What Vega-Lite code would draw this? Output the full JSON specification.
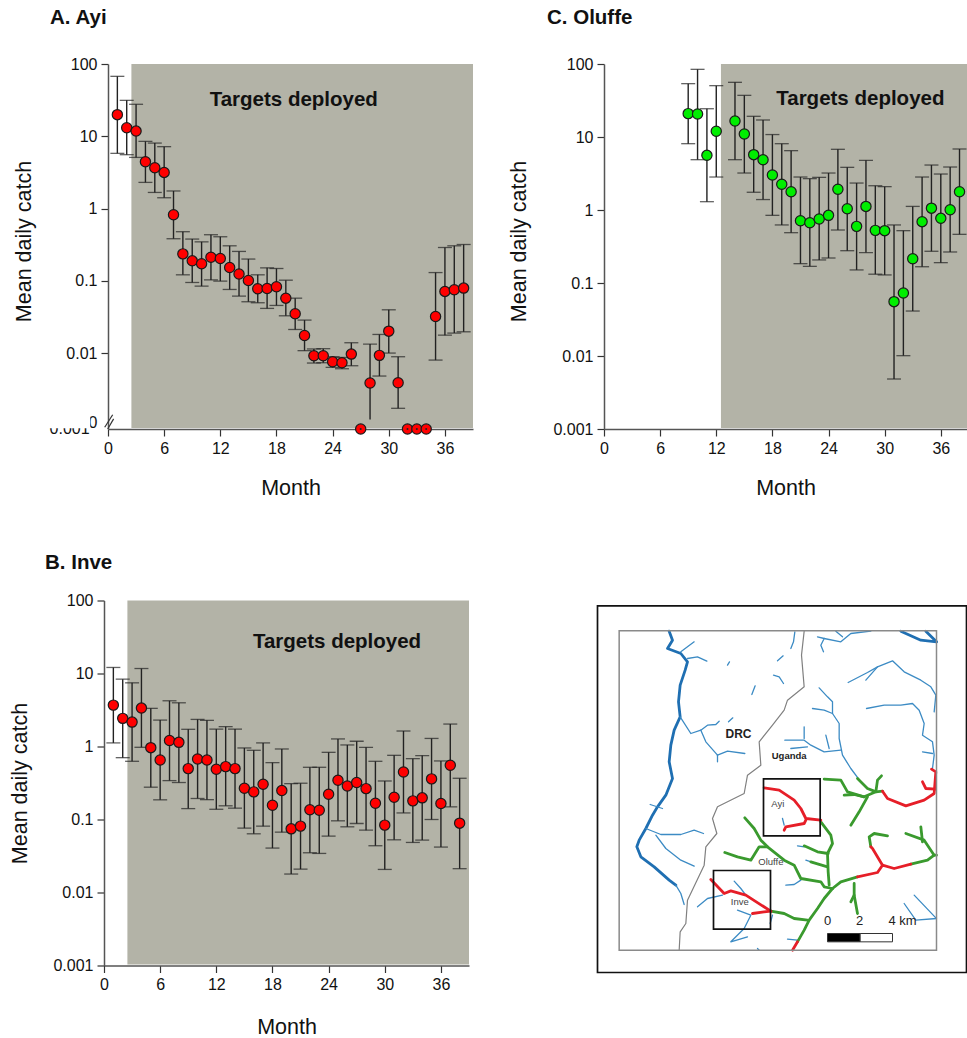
{"$schema":"https://vega.github.io/schema/vega-lite/v6.json","padding":{"left":9,"top":7,"right":0,"bottom":0},"background":"white",
"config":{"font":"Liberation Sans","view":{"stroke":null},"title":{"fontSize":20.5,"fontWeight":"bold","color":"#111"},
"axis":{"grid":false,"domainColor":"#555","domainWidth":1.5,"tickColor":"#333","tickWidth":1.2,"tickSize":7,"labelFontSize":16,"labelColor":"#111","labelPadding":4,"titleFontSize":21.5,"titleFontWeight":"normal","titleColor":"#111","labelOverlap":false,"labelFlush":false}},
"datasets":{
"shadeA":[{"month":2.5,"end":39,"low":0.00092,"high":100}],
"shadeC":[{"month":12.5,"end":38.8,"low":0.00103,"high":100}],
"shadeB":[{"month":2.5,"end":39,"low":0.00103,"high":100}],
"A":[{"month":1,"mean":19.9,"hi":67.5,"lo":5.8},{"month":2,"mean":13.1,"hi":31.4,"lo":5.56},{"month":3,"mean":11.8,"hi":27.7,"lo":5.1},{"month":4,"mean":4.45,"hi":8.5,"lo":2.3},{"month":5,"mean":3.67,"hi":8.05,"lo":1.67},{"month":6,"mean":3.16,"hi":7.18,"lo":1.41},{"month":7,"mean":0.82,"hi":1.75,"lo":0.382},{"month":8,"mean":0.236,"hi":0.478,"lo":0.121},{"month":9,"mean":0.189,"hi":0.378,"lo":0.0948},{"month":10,"mean":0.172,"hi":0.346,"lo":0.0844},{"month":11,"mean":0.212,"hi":0.434,"lo":0.103},{"month":12,"mean":0.204,"hi":0.407,"lo":0.099},{"month":13,"mean":0.153,"hi":0.305,"lo":0.0759},{"month":14,"mean":0.124,"hi":0.255,"lo":0.0614},{"month":15,"mean":0.101,"hi":0.2,"lo":0.0513},{"month":16,"mean":0.0775,"hi":0.121,"lo":0.0497},{"month":17,"mean":0.0783,"hi":0.151,"lo":0.0415},{"month":18,"mean":0.0826,"hi":0.148,"lo":0.0456},{"month":19,"mean":0.0575,"hi":0.102,"lo":0.0328},{"month":20,"mean":0.035,"hi":0.0575,"lo":0.0212},{"month":21,"mean":0.0175,"hi":0.0286,"lo":0.0108},{"month":22,"mean":0.00918,"hi":0.0114,"lo":0.00728},{"month":23,"mean":0.00918,"hi":0.0115,"lo":0.00735},{"month":24,"mean":0.00759,"hi":0.0089,"lo":0.00634},{"month":25,"mean":0.00735,"hi":0.0087,"lo":0.00607},{"month":26,"mean":0.00968,"hi":0.0139,"lo":0.00668},{"month":27,"mean":0.00089},{"month":28,"mean":0.00385,"hi":0.0133,"lo":0.0012},{"month":29,"mean":0.0093,"hi":0.0181,"lo":0.00481},{"month":30,"mean":0.0201,"hi":0.0397,"lo":0.01},{"month":31,"mean":0.00389,"hi":0.0089,"lo":0.00172},{"month":32,"mean":0.00089},{"month":33,"mean":0.00089},{"month":34,"mean":0.00089},{"month":35,"mean":0.0321,"hi":0.13,"lo":0.008},{"month":36,"mean":0.0713,"hi":0.289,"lo":0.0177},{"month":37,"mean":0.0752,"hi":0.305,"lo":0.0189},{"month":38,"mean":0.0793,"hi":0.318,"lo":0.0197}],
"C":[{"month":9,"mean":20.9,"hi":53.8,"lo":8.1},{"month":10,"mean":20.7,"hi":84.5,"lo":4.89},{"month":11,"mean":5.61,"hi":24.4,"lo":1.3},{"month":12,"mean":11.97,"hi":50.5,"lo":2.83},{"month":14,"mean":16.6,"hi":56.1,"lo":4.89},{"month":15,"mean":11,"hi":37.2,"lo":3.21},{"month":16,"mean":5.73,"hi":19.2,"lo":1.75},{"month":17,"mean":4.89,"hi":17.1,"lo":1.39},{"month":18,"mean":3.01,"hi":10.8,"lo":0.845},{"month":19,"mean":2.25,"hi":8.1,"lo":0.624},{"month":20,"mean":1.78,"hi":6.5,"lo":0.489},{"month":21,"mean":0.714,"hi":2.83,"lo":0.184},{"month":22,"mean":0.67,"hi":2.69,"lo":0.169},{"month":23,"mean":0.753,"hi":2.8,"lo":0.207},{"month":24,"mean":0.845,"hi":3.21,"lo":0.22},{"month":25,"mean":1.92,"hi":6.78,"lo":0.532},{"month":26,"mean":1.04,"hi":3.84,"lo":0.277},{"month":27,"mean":0.597,"hi":2.34,"lo":0.151},{"month":28,"mean":1.12,"hi":4.79,"lo":0.261},{"month":29,"mean":0.526,"hi":2.15,"lo":0.132},{"month":30,"mean":0.521,"hi":2.09,"lo":0.129},{"month":31,"mean":0.0555,"hi":0.624,"lo":0.00484},{"month":32,"mean":0.0729,"hi":0.521,"lo":0.0101},{"month":33,"mean":0.215,"hi":1.12,"lo":0.0413},{"month":34,"mean":0.692,"hi":2.83,"lo":0.167},{"month":35,"mean":1.06,"hi":4.13,"lo":0.272},{"month":36,"mean":0.769,"hi":3.11,"lo":0.19},{"month":37,"mean":1.01,"hi":3.88,"lo":0.266},{"month":38,"mean":1.78,"hi":6.85,"lo":0.464}],
"B":[{"month":1,"mean":3.69,"hi":12.1,"lo":1.12},{"month":2,"mean":2.43,"hi":8.37,"lo":0.703},{"month":3,"mean":2.16,"hi":7.45,"lo":0.627},{"month":4,"mean":3.36,"hi":11.7,"lo":0.975},{"month":5,"mean":0.964,"hi":3.33,"lo":0.277},{"month":6,"mean":0.653,"hi":2.3,"lo":0.186},{"month":7,"mean":1.21,"hi":4.23,"lo":0.341},{"month":8,"mean":1.14,"hi":3.97,"lo":0.321},{"month":9,"mean":0.498,"hi":1.72,"lo":0.141},{"month":10,"mean":0.675,"hi":2.35,"lo":0.194},{"month":11,"mean":0.653,"hi":2.28,"lo":0.187},{"month":12,"mean":0.488,"hi":1.73,"lo":0.138},{"month":13,"mean":0.53,"hi":1.87,"lo":0.154},{"month":14,"mean":0.498,"hi":1.73,"lo":0.143},{"month":15,"mean":0.268,"hi":0.955,"lo":0.0762},{"month":16,"mean":0.239,"hi":0.887,"lo":0.0637},{"month":17,"mean":0.304,"hi":1.12,"lo":0.0811},{"month":18,"mean":0.157,"hi":0.601,"lo":0.0406},{"month":19,"mean":0.249,"hi":0.925,"lo":0.0671},{"month":20,"mean":0.0745,"hi":0.31,"lo":0.0179},{"month":21,"mean":0.0811,"hi":0.314,"lo":0.0209},{"month":22,"mean":0.136,"hi":0.519,"lo":0.035},{"month":23,"mean":0.134,"hi":0.519,"lo":0.0343},{"month":24,"mean":0.222,"hi":0.832,"lo":0.0592},{"month":25,"mean":0.345,"hi":1.27,"lo":0.0959},{"month":26,"mean":0.288,"hi":1.05,"lo":0.0794},{"month":27,"mean":0.321,"hi":1.18,"lo":0.0881},{"month":28,"mean":0.265,"hi":0.975,"lo":0.0715},{"month":29,"mean":0.167,"hi":0.627,"lo":0.0437},{"month":30,"mean":0.0837,"hi":0.337,"lo":0.0207},{"month":31,"mean":0.202,"hi":0.757,"lo":0.0527},{"month":32,"mean":0.448,"hi":1.63,"lo":0.123},{"month":33,"mean":0.18,"hi":0.682,"lo":0.0485},{"month":34,"mean":0.198,"hi":0.75,"lo":0.0522},{"month":35,"mean":0.36,"hi":1.29,"lo":0.1},{"month":36,"mean":0.166,"hi":0.634,"lo":0.0419},{"month":37,"mean":0.553,"hi":2.03,"lo":0.149},{"month":38,"mean":0.0891,"hi":0.367,"lo":0.0212}],
"breakA":[{"mark":"a","month":-0.35,"v":0.00094},{"mark":"a","month":0.5,"v":0.0014},{"mark":"b","month":-0.03,"v":0.00089},{"mark":"b","month":0.6,"v":0.00123}],
"rivers":[
{"line":"r1","kind":"river","x":235,"y":98},{"line":"r1","kind":"river","x":245,"y":125},{"line":"r1","kind":"river","x":230,"y":150},{"line":"r1","kind":"river","x":270,"y":165},{"line":"r1","kind":"river","x":290,"y":190},{"line":"r1","kind":"river","x":283,"y":215},{"line":"r1","kind":"river","x":268,"y":260},{"line":"r1","kind":"river","x":263,"y":310},{"line":"r1","kind":"river","x":268,"y":355},{"line":"r1","kind":"river","x":250,"y":395},{"line":"r1","kind":"river","x":240,"y":440},{"line":"r1","kind":"river","x":235,"y":490},{"line":"r1","kind":"river","x":245,"y":540},{"line":"r1","kind":"river","x":225,"y":590},{"line":"r1","kind":"river","x":200,"y":625},{"line":"r1","kind":"river","x":185,"y":650},{"line":"r1","kind":"river","x":165,"y":690},{"line":"r1","kind":"river","x":145,"y":725},{"line":"r1","kind":"river","x":138,"y":745},{"line":"r1","kind":"river","x":150,"y":775},{"line":"r1","kind":"river","x":190,"y":805},{"line":"r1","kind":"river","x":235,"y":845},{"line":"r1","kind":"river","x":255,"y":860},
{"line":"r2","kind":"river","x":930,"y":98},{"line":"r2","kind":"river","x":990,"y":125},{"line":"r2","kind":"river","x":1037,"y":130},{"line":"r3","kind":"river","x":1005,"y":98},{"line":"r3","kind":"river","x":1037,"y":130},
{"line":"s1","kind":"stream","x":255,"y":860},{"line":"s1","kind":"stream","x":270,"y":885},{"line":"s1","kind":"stream","x":280,"y":918},
{"line":"s2","kind":"stream","x":270,"y":160},{"line":"s2","kind":"stream","x":310,"y":130},
{"line":"s3","kind":"stream","x":290,"y":180},{"line":"s3","kind":"stream","x":320,"y":175},{"line":"s3","kind":"stream","x":348,"y":188},
{"line":"s4","kind":"stream","x":268,"y":355},{"line":"s4","kind":"stream","x":300,"y":405},{"line":"s4","kind":"stream","x":330,"y":395},{"line":"s4","kind":"stream","x":350,"y":380},{"line":"s4","kind":"stream","x":375,"y":378},{"line":"s4","kind":"stream","x":385,"y":368},
{"line":"s5","kind":"stream","x":330,"y":395},{"line":"s5","kind":"stream","x":345,"y":430},{"line":"s5","kind":"stream","x":380,"y":470},{"line":"s5","kind":"stream","x":410,"y":458},{"line":"s5","kind":"stream","x":462,"y":465},
{"line":"s6","kind":"stream","x":380,"y":470},{"line":"s6","kind":"stream","x":380,"y":490},
{"line":"s7","kind":"stream","x":165,"y":690},{"line":"s7","kind":"stream","x":210,"y":708},{"line":"s7","kind":"stream","x":270,"y":708},{"line":"s7","kind":"stream","x":310,"y":695},{"line":"s7","kind":"stream","x":338,"y":705},
{"line":"s8","kind":"stream","x":195,"y":710},{"line":"s8","kind":"stream","x":225,"y":750},{"line":"s8","kind":"stream","x":270,"y":785},{"line":"s8","kind":"stream","x":310,"y":803},
{"line":"s9","kind":"stream","x":178,"y":618},{"line":"s9","kind":"stream","x":215,"y":630},
{"line":"s10","kind":"stream","x":410,"y":200},{"line":"s10","kind":"stream","x":416,"y":190},
{"line":"s11","kind":"stream","x":577,"y":172},{"line":"s11","kind":"stream","x":560,"y":187},
{"line":"s12","kind":"stream","x":548,"y":230},{"line":"s12","kind":"stream","x":565,"y":235},{"line":"s12","kind":"stream","x":578,"y":255},
{"line":"s13","kind":"stream","x":493,"y":262},{"line":"s13","kind":"stream","x":483,"y":288},
{"line":"s14","kind":"stream","x":426,"y":358},{"line":"s14","kind":"stream","x":413,"y":370},
{"line":"s15","kind":"stream","x":612,"y":100},{"line":"s15","kind":"stream","x":608,"y":130},{"line":"s15","kind":"stream","x":600,"y":150},
{"line":"s16","kind":"stream","x":680,"y":115},{"line":"s16","kind":"stream","x":700,"y":120},{"line":"s16","kind":"stream","x":690,"y":140},{"line":"s16","kind":"stream","x":698,"y":160},
{"line":"s17","kind":"stream","x":700,"y":120},{"line":"s17","kind":"stream","x":750,"y":130},{"line":"s17","kind":"stream","x":780,"y":105},{"line":"s17","kind":"stream","x":840,"y":98},
{"line":"s18","kind":"stream","x":735,"y":98},{"line":"s18","kind":"stream","x":755,"y":115},
{"line":"s19","kind":"stream","x":772,"y":252},{"line":"s19","kind":"stream","x":830,"y":222},{"line":"s19","kind":"stream","x":860,"y":205},{"line":"s19","kind":"stream","x":905,"y":187},{"line":"s19","kind":"stream","x":940,"y":220},{"line":"s19","kind":"stream","x":990,"y":245},{"line":"s19","kind":"stream","x":1020,"y":265},{"line":"s19","kind":"stream","x":1035,"y":290},{"line":"s19","kind":"stream","x":1030,"y":340},
{"line":"s20","kind":"stream","x":825,"y":245},{"line":"s20","kind":"stream","x":860,"y":205},
{"line":"s21","kind":"stream","x":827,"y":330},{"line":"s21","kind":"stream","x":880,"y":320},{"line":"s21","kind":"stream","x":930,"y":320},{"line":"s21","kind":"stream","x":965,"y":315},{"line":"s21","kind":"stream","x":985,"y":335},{"line":"s21","kind":"stream","x":1000,"y":375},{"line":"s21","kind":"stream","x":995,"y":410},{"line":"s21","kind":"stream","x":1025,"y":430},{"line":"s21","kind":"stream","x":1030,"y":470},{"line":"s21","kind":"stream","x":1025,"y":510},
{"line":"s22","kind":"stream","x":995,"y":460},{"line":"s22","kind":"stream","x":1025,"y":465},
{"line":"s23","kind":"stream","x":685,"y":268},{"line":"s23","kind":"stream","x":710,"y":295},{"line":"s23","kind":"stream","x":725,"y":310},{"line":"s23","kind":"stream","x":725,"y":345},{"line":"s23","kind":"stream","x":745,"y":375},{"line":"s23","kind":"stream","x":745,"y":420},{"line":"s23","kind":"stream","x":755,"y":470},{"line":"s23","kind":"stream","x":780,"y":510},{"line":"s23","kind":"stream","x":810,"y":550},
{"line":"s24","kind":"stream","x":665,"y":330},{"line":"s24","kind":"stream","x":700,"y":335},{"line":"s24","kind":"stream","x":725,"y":345},
{"line":"s25","kind":"stream","x":582,"y":425},{"line":"s25","kind":"stream","x":640,"y":425},{"line":"s25","kind":"stream","x":660,"y":440},{"line":"s25","kind":"stream","x":700,"y":460},{"line":"s25","kind":"stream","x":750,"y":455},
{"line":"s26","kind":"stream","x":640,"y":385},{"line":"s26","kind":"stream","x":640,"y":420},
{"line":"s27","kind":"stream","x":600,"y":450},{"line":"s27","kind":"stream","x":650,"y":445},
{"line":"s28","kind":"stream","x":705,"y":410},{"line":"s28","kind":"stream","x":715,"y":450},
{"line":"s29","kind":"stream","x":320,"y":925},{"line":"s29","kind":"stream","x":350,"y":900},{"line":"s29","kind":"stream","x":395,"y":890},
{"line":"s30","kind":"stream","x":430,"y":848},{"line":"s30","kind":"stream","x":450,"y":870},{"line":"s30","kind":"stream","x":465,"y":890},
{"line":"s31","kind":"stream","x":440,"y":935},{"line":"s31","kind":"stream","x":480,"y":950},{"line":"s31","kind":"stream","x":460,"y":990},{"line":"s31","kind":"stream","x":420,"y":1030},{"line":"s31","kind":"stream","x":470,"y":1015},
{"line":"s32","kind":"stream","x":545,"y":950},{"line":"s32","kind":"stream","x":538,"y":975},
{"line":"s33","kind":"stream","x":590,"y":1022},{"line":"s33","kind":"stream","x":620,"y":1025},
{"line":"s34","kind":"stream","x":500,"y":1050},{"line":"s34","kind":"stream","x":505,"y":1055},
{"line":"s35","kind":"stream","x":585,"y":860},{"line":"s35","kind":"stream","x":610,"y":858},{"line":"s35","kind":"stream","x":630,"y":845},
{"line":"s36","kind":"stream","x":620,"y":742},{"line":"s36","kind":"stream","x":640,"y":745},
{"line":"s37","kind":"stream","x":645,"y":785},{"line":"s37","kind":"stream","x":690,"y":800},
{"line":"s38","kind":"stream","x":940,"y":915},{"line":"s38","kind":"stream","x":975,"y":965},{"line":"s38","kind":"stream","x":1037,"y":960},
{"line":"s39","kind":"stream","x":970,"y":890},{"line":"s39","kind":"stream","x":1035,"y":958},
{"line":"s40","kind":"stream","x":575,"y":660},{"line":"s40","kind":"stream","x":580,"y":680},
{"line":"b1","kind":"border","x":640,"y":98},{"line":"b1","kind":"border","x":632,"y":170},{"line":"b1","kind":"border","x":640,"y":265},{"line":"b1","kind":"border","x":590,"y":305},{"line":"b1","kind":"border","x":580,"y":335},{"line":"b1","kind":"border","x":545,"y":380},{"line":"b1","kind":"border","x":505,"y":430},{"line":"b1","kind":"border","x":510,"y":500},{"line":"b1","kind":"border","x":470,"y":530},{"line":"b1","kind":"border","x":460,"y":585},{"line":"b1","kind":"border","x":380,"y":625},{"line":"b1","kind":"border","x":365,"y":660},{"line":"b1","kind":"border","x":378,"y":705},{"line":"b1","kind":"border","x":345,"y":745},{"line":"b1","kind":"border","x":340,"y":800},{"line":"b1","kind":"border","x":290,"y":905},{"line":"b1","kind":"border","x":285,"y":975},{"line":"b1","kind":"border","x":268,"y":1000},{"line":"b1","kind":"border","x":265,"y":1055},
{"line":"g1","kind":"green","x":700,"y":542},{"line":"g1","kind":"green","x":750,"y":545},{"line":"g1","kind":"green","x":770,"y":580},{"line":"g1","kind":"green","x":820,"y":595},{"line":"g1","kind":"green","x":855,"y":580},{"line":"g1","kind":"green","x":875,"y":578},
{"line":"g2","kind":"green","x":855,"y":580},{"line":"g2","kind":"green","x":860,"y":545},{"line":"g2","kind":"green","x":872,"y":532},
{"line":"g3","kind":"green","x":800,"y":540},{"line":"g3","kind":"green","x":830,"y":570},{"line":"g3","kind":"green","x":850,"y":578},
{"line":"g4","kind":"green","x":760,"y":590},{"line":"g4","kind":"green","x":790,"y":588},{"line":"g4","kind":"green","x":820,"y":595},
{"line":"g5","kind":"green","x":830,"y":595},{"line":"g5","kind":"green","x":805,"y":640},{"line":"g5","kind":"green","x":780,"y":680},
{"line":"g6","kind":"green","x":690,"y":670},{"line":"g6","kind":"green","x":720,"y":710},{"line":"g6","kind":"green","x":725,"y":735},{"line":"g6","kind":"green","x":710,"y":765},{"line":"g6","kind":"green","x":712,"y":820},{"line":"g6","kind":"green","x":715,"y":860},
{"line":"g7","kind":"green","x":640,"y":742},{"line":"g7","kind":"green","x":680,"y":760},{"line":"g7","kind":"green","x":712,"y":765},
{"line":"g8","kind":"green","x":660,"y":790},{"line":"g8","kind":"green","x":710,"y":805},
{"line":"g9","kind":"green","x":462,"y":658},{"line":"g9","kind":"green","x":490,"y":690},{"line":"g9","kind":"green","x":510,"y":725},{"line":"g9","kind":"green","x":530,"y":745},{"line":"g9","kind":"green","x":580,"y":785},{"line":"g9","kind":"green","x":610,"y":800},{"line":"g9","kind":"green","x":630,"y":840},{"line":"g9","kind":"green","x":690,"y":850},{"line":"g9","kind":"green","x":700,"y":865},{"line":"g9","kind":"green","x":725,"y":870},
{"line":"g10","kind":"green","x":402,"y":762},{"line":"g10","kind":"green","x":440,"y":775},{"line":"g10","kind":"green","x":480,"y":785},{"line":"g10","kind":"green","x":505,"y":745},{"line":"g10","kind":"green","x":530,"y":745},
{"line":"g11","kind":"green","x":725,"y":870},{"line":"g11","kind":"green","x":750,"y":850},{"line":"g11","kind":"green","x":800,"y":835},
{"line":"g12","kind":"green","x":725,"y":870},{"line":"g12","kind":"green","x":700,"y":900},{"line":"g12","kind":"green","x":680,"y":930},{"line":"g12","kind":"green","x":655,"y":965},{"line":"g12","kind":"green","x":640,"y":995},{"line":"g12","kind":"green","x":620,"y":1030},
{"line":"g13","kind":"green","x":540,"y":938},{"line":"g13","kind":"green","x":580,"y":945},{"line":"g13","kind":"green","x":610,"y":960},{"line":"g13","kind":"green","x":650,"y":965},
{"line":"g14","kind":"green","x":960,"y":797},{"line":"g14","kind":"green","x":1010,"y":785},{"line":"g14","kind":"green","x":1030,"y":770},{"line":"g14","kind":"green","x":1037,"y":770},
{"line":"g15","kind":"green","x":840,"y":745},{"line":"g15","kind":"green","x":835,"y":715},{"line":"g15","kind":"green","x":850,"y":705},{"line":"g15","kind":"green","x":890,"y":712},
{"line":"g16","kind":"green","x":1030,"y":770},{"line":"g16","kind":"green","x":1000,"y":725},{"line":"g16","kind":"green","x":945,"y":705},
{"line":"g17","kind":"green","x":990,"y":685},{"line":"g17","kind":"green","x":995,"y":730},
{"line":"g18","kind":"green","x":790,"y":855},{"line":"g18","kind":"green","x":790,"y":890},{"line":"g18","kind":"green","x":800,"y":945},
{"line":"g19","kind":"green","x":790,"y":890},{"line":"g19","kind":"green","x":780,"y":910},
{"line":"e1","kind":"red","x":875,"y":578},{"line":"e1","kind":"red","x":890,"y":600},{"line":"e1","kind":"red","x":945,"y":622},{"line":"e1","kind":"red","x":1000,"y":605},{"line":"e1","kind":"red","x":1030,"y":585},{"line":"e1","kind":"red","x":1035,"y":520},{"line":"e1","kind":"red","x":1022,"y":512},
{"line":"e2","kind":"red","x":995,"y":550},{"line":"e2","kind":"red","x":1005,"y":570},{"line":"e2","kind":"red","x":1033,"y":572},
{"line":"e3","kind":"red","x":520,"y":568},{"line":"e3","kind":"red","x":565,"y":575},{"line":"e3","kind":"red","x":610,"y":605},{"line":"e3","kind":"red","x":630,"y":630},{"line":"e3","kind":"red","x":645,"y":660},{"line":"e3","kind":"red","x":690,"y":665},
{"line":"e4","kind":"red","x":645,"y":665},{"line":"e4","kind":"red","x":640,"y":675},{"line":"e4","kind":"red","x":585,"y":685},{"line":"e4","kind":"red","x":580,"y":695},
{"line":"e5","kind":"red","x":800,"y":835},{"line":"e5","kind":"red","x":860,"y":822},{"line":"e5","kind":"red","x":875,"y":800},{"line":"e5","kind":"red","x":910,"y":810},{"line":"e5","kind":"red","x":960,"y":797},
{"line":"e6","kind":"red","x":875,"y":800},{"line":"e6","kind":"red","x":845,"y":750},{"line":"e6","kind":"red","x":840,"y":745},
{"line":"e7","kind":"red","x":620,"y":1030},{"line":"e7","kind":"red","x":605,"y":1055},
{"line":"e8","kind":"red","x":360,"y":843},{"line":"e8","kind":"red","x":400,"y":885},{"line":"e8","kind":"red","x":420,"y":877},{"line":"e8","kind":"red","x":465,"y":890},{"line":"e8","kind":"red","x":540,"y":938},
{"line":"e9","kind":"red","x":485,"y":945},{"line":"e9","kind":"red","x":520,"y":940},{"line":"e9","kind":"red","x":540,"y":938}],
"mapFrames":[{"part":"outer","x":20,"x2":1127,"y":22,"y2":1122},{"part":"inner","x":85,"x2":1037,"y":97,"y2":1055},{"part":"ayi","x":518,"x2":688,"y":541,"y2":712},{"part":"inve","x":368,"x2":539,"y":816,"y2":992}],
"scaleBar":[{"part":"0-2 km","x":710,"x2":808,"y":1005,"y2":1030},{"part":"2-4 km","x":808,"x2":905,"y":1005,"y2":1030}],
"mapLabels":[{"x":443,"y":407,"label":"DRC","group":"drc"},{"x":595,"y":473,"label":"Uganda","group":"uganda"},{"x":561,"y":617,"label":"Ayi","group":"place"},{"x":540,"y":790,"label":"Oluffe","group":"place"},{"x":447,"y":911,"label":"Inve","group":"place"},{"x":710,"y":968,"label":"0","group":"bar"},{"x":806,"y":968,"label":"2","group":"bar"},{"x":935,"y":968,"label":"4 km","group":"bar"}]
},
"spacing":53.5,
"vconcat":[
{"spacing":35,"hconcat":[
{"bounds":"flush","spacing":0,"hconcat":[
{"width":4,"height":365,"data":{"values":[{"month":0}]},"mark":{"type":"point","opacity":0},"encoding":{"x":{"field":"month","type":"quantitative","axis":null}}},
{"width":365,"height":365,"title":{"text":"A. Ayi","anchor":"start","frame":"group","dx":-58,"offset":28},
"layer":[
{"data":{"name":"shadeA"},"mark":{"type":"rect","color":"#b3b3a7"},"encoding":{"x":{"field":"month","type":"quantitative","scale":{"domain":[0,39],"nice":false},"axis":{"values":[0,6,12,18,24,30,36],"title":"Month","titlePadding":21}},"x2":{"field":"end"},"y":{"field":"low","type":"quantitative","scale":{"type":"log","domain":[0.00089,100],"nice":false},"axis":{"values":[100,10,1,0.1,0.01,0.0011],"labelExpr":"datum.value < 0.005 ? '0' : '' + datum.value","tickOpacity":{"condition":{"test":"datum.value < 0.005","value":0},"value":1},"title":"Mean daily catch","titlePadding":30,"titleY":177}},"y2":{"field":"high"}}},
{"data":{"name":"breakA"},"mark":{"type":"line","color":"#333","strokeWidth":1.2,"clip":false},"encoding":{"x":{"field":"month","type":"quantitative","scale":{"domain":[0,39],"nice":false}},"y":{"field":"v","type":"quantitative","scale":{"type":"log","domain":[0.00089,100],"nice":false}},"detail":{"field":"mark"}}},
{"data":{"name":"A"},"mark":{"type":"rule","color":"#222","strokeWidth":1.4},"encoding":{"x":{"field":"month","type":"quantitative","scale":{"domain":[0,39],"nice":false}},"y":{"field":"lo","type":"quantitative","scale":{"type":"log","domain":[0.00089,100],"nice":false}},"y2":{"field":"hi"}}},
{"data":{"name":"A"},"mark":{"type":"tick","orient":"horizontal","color":"#222","size":14,"thickness":1.3},"encoding":{"x":{"field":"month","type":"quantitative","scale":{"domain":[0,39],"nice":false}},"y":{"field":"hi","type":"quantitative","scale":{"type":"log","domain":[0.00089,100],"nice":false}}}},
{"data":{"name":"A"},"transform":[{"filter":"datum.month != 28"}],"mark":{"type":"tick","orient":"horizontal","color":"#222","size":14,"thickness":1.3},"encoding":{"x":{"field":"month","type":"quantitative","scale":{"domain":[0,39],"nice":false}},"y":{"field":"lo","type":"quantitative","scale":{"type":"log","domain":[0.00089,100],"nice":false}}}},
{"data":{"name":"A"},"mark":{"type":"point","filled":true,"fill":"#ff0000","stroke":"#1a1a1a","strokeWidth":1.2,"opacity":1,"size":105},"encoding":{"x":{"field":"month","type":"quantitative","scale":{"domain":[0,39],"nice":false}},"y":{"field":"mean","type":"quantitative","scale":{"type":"log","domain":[0.00089,100],"nice":false}}}},
{"data":{"name":"A"},"transform":[{"filter":"datum.mean < 0.001"}],"mark":{"type":"point","filled":true,"color":"#222","opacity":1,"size":4},"encoding":{"x":{"field":"month","type":"quantitative","scale":{"domain":[0,39],"nice":false}},"y":{"field":"mean","type":"quantitative","scale":{"type":"log","domain":[0.00089,100],"nice":false}}}},
{"data":{"values":[{"month":19.85,"v":32,"label":"Targets deployed"}]},"mark":{"type":"text","fontSize":20.5,"fontWeight":"bold","color":"#111"},"encoding":{"x":{"field":"month","type":"quantitative","scale":{"domain":[0,39],"nice":false}},"y":{"field":"v","type":"quantitative","scale":{"type":"log","domain":[0.00089,100],"nice":false}},"text":{"field":"label"}}},
{"data":{"values":[{"month":-4.1,"v":0.00089,"label":"0.001"}]},"mark":{"type":"text","fontSize":16,"color":"#111","clip":false},"encoding":{"x":{"field":"month","type":"quantitative","scale":{"domain":[0,39],"nice":false}},"y":{"field":"v","type":"quantitative","scale":{"type":"log","domain":[0.00089,100],"nice":false}},"text":{"field":"label"}}},
{"data":{"values":[{"month":-6.5,"end":-1.9,"v":0.00091,"top":0.0013}]},"mark":{"type":"rect","color":"white","opacity":1,"clip":false},"encoding":{"x":{"field":"month","type":"quantitative","scale":{"domain":[0,39],"nice":false}},"x2":{"field":"end"},"y":{"field":"v","type":"quantitative","scale":{"type":"log","domain":[0.00089,100],"nice":false}},"y2":{"field":"top"}}}
]}
]},
{"width":363,"height":365,"title":{"text":"C. Oluffe","anchor":"start","frame":"group","dx":-57,"offset":28},
"layer":[
{"data":{"name":"shadeC"},"mark":{"type":"rect","color":"#b3b3a7"},"encoding":{"x":{"field":"month","type":"quantitative","scale":{"domain":[0,38.8],"nice":false},"axis":{"values":[0,6,12,18,24,30,36],"title":"Month","titlePadding":21}},"x2":{"field":"end"},"y":{"field":"low","type":"quantitative","scale":{"type":"log","domain":[0.001,100],"nice":false},"axis":{"values":[100,10,1,0.1,0.01,0.001],"labelExpr":"'' + datum.value","title":"Mean daily catch","titlePadding":22,"titleY":177}},"y2":{"field":"high"}}},
{"data":{"name":"C"},"mark":{"type":"rule","color":"#222","strokeWidth":1.4},"encoding":{"x":{"field":"month","type":"quantitative","scale":{"domain":[0,38.8],"nice":false}},"y":{"field":"lo","type":"quantitative","scale":{"type":"log","domain":[0.001,100],"nice":false}},"y2":{"field":"hi"}}},
{"data":{"name":"C"},"mark":{"type":"tick","orient":"horizontal","color":"#222","size":14,"thickness":1.3},"encoding":{"x":{"field":"month","type":"quantitative","scale":{"domain":[0,38.8],"nice":false}},"y":{"field":"hi","type":"quantitative","scale":{"type":"log","domain":[0.001,100],"nice":false}}}},
{"data":{"name":"C"},"mark":{"type":"tick","orient":"horizontal","color":"#222","size":14,"thickness":1.3},"encoding":{"x":{"field":"month","type":"quantitative","scale":{"domain":[0,38.8],"nice":false}},"y":{"field":"lo","type":"quantitative","scale":{"type":"log","domain":[0.001,100],"nice":false}}}},
{"data":{"name":"C"},"mark":{"type":"point","filled":true,"fill":"#00ee00","stroke":"#1a1a1a","strokeWidth":1.2,"opacity":1,"size":105},"encoding":{"x":{"field":"month","type":"quantitative","scale":{"domain":[0,38.8],"nice":false}},"y":{"field":"mean","type":"quantitative","scale":{"type":"log","domain":[0.001,100],"nice":false}}}},
{"data":{"values":[{"month":27.4,"v":32.8,"label":"Targets deployed"}]},"mark":{"type":"text","fontSize":20.5,"fontWeight":"bold","color":"#111"},"encoding":{"x":{"field":"month","type":"quantitative","scale":{"domain":[0,38.8],"nice":false}},"y":{"field":"v","type":"quantitative","scale":{"type":"log","domain":[0.001,100],"nice":false}},"text":{"field":"label"}}}
]}
]},
{"spacing":127.5,"hconcat":[
{"width":365,"height":365,"title":{"text":"B. Inve","anchor":"start","frame":"group","dx":-59,"offset":19},
"layer":[
{"data":{"name":"shadeB"},"mark":{"type":"rect","color":"#b3b3a7"},"encoding":{"x":{"field":"month","type":"quantitative","scale":{"domain":[0,39],"nice":false},"axis":{"values":[0,6,12,18,24,30,36],"title":"Month","titlePadding":24}},"x2":{"field":"end"},"y":{"field":"low","type":"quantitative","scale":{"type":"log","domain":[0.001,100],"nice":false},"axis":{"values":[100,10,1,0.1,0.01,0.001],"labelExpr":"'' + datum.value","title":"Mean daily catch","titlePadding":21}},"y2":{"field":"high"}}},
{"data":{"name":"B"},"mark":{"type":"rule","color":"#222","strokeWidth":1.4},"encoding":{"x":{"field":"month","type":"quantitative","scale":{"domain":[0,39],"nice":false}},"y":{"field":"lo","type":"quantitative","scale":{"type":"log","domain":[0.001,100],"nice":false}},"y2":{"field":"hi"}}},
{"data":{"name":"B"},"mark":{"type":"tick","orient":"horizontal","color":"#222","size":14,"thickness":1.3},"encoding":{"x":{"field":"month","type":"quantitative","scale":{"domain":[0,39],"nice":false}},"y":{"field":"hi","type":"quantitative","scale":{"type":"log","domain":[0.001,100],"nice":false}}}},
{"data":{"name":"B"},"mark":{"type":"tick","orient":"horizontal","color":"#222","size":14,"thickness":1.3},"encoding":{"x":{"field":"month","type":"quantitative","scale":{"domain":[0,39],"nice":false}},"y":{"field":"lo","type":"quantitative","scale":{"type":"log","domain":[0.001,100],"nice":false}}}},
{"data":{"name":"B"},"mark":{"type":"point","filled":true,"fill":"#ff0000","stroke":"#1a1a1a","strokeWidth":1.2,"opacity":1,"size":105},"encoding":{"x":{"field":"month","type":"quantitative","scale":{"domain":[0,39],"nice":false}},"y":{"field":"mean","type":"quantitative","scale":{"type":"log","domain":[0.001,100],"nice":false}}}},
{"data":{"values":[{"month":24.9,"v":27,"label":"Targets deployed"}]},"mark":{"type":"text","fontSize":20.5,"fontWeight":"bold","color":"#111"},"encoding":{"x":{"field":"month","type":"quantitative","scale":{"domain":[0,39],"nice":false}},"y":{"field":"v","type":"quantitative","scale":{"type":"log","domain":[0.001,100],"nice":false}},"text":{"field":"label"}}}
]},
{"width":370,"height":372,
"layer":[
{"data":{"name":"rivers"},"mark":{"type":"line","strokeJoin":"round","strokeCap":"round","clip":true},"encoding":{"x":{"field":"x","type":"quantitative","scale":{"domain":[20,1130],"nice":false,"zero":false},"axis":null},"y":{"field":"y","type":"quantitative","scale":{"domain":[1122,6],"nice":false,"zero":false},"axis":null},"detail":{"field":"line"},"order":{"value":null},"color":{"field":"kind","type":"nominal","scale":{"domain":["river","stream","border","green","red"],"range":["#1f6fb2","#3c8bc4","#808080","#3a9a2e","#e61e28"]},"legend":null},"strokeWidth":{"field":"kind","type":"ordinal","scale":{"type":"ordinal","domain":["river","stream","border","green","red"],"range":[2.8,1.3,1.2,2.8,2.8]},"legend":null}}},
{"data":{"name":"mapFrames"},"transform":[{"filter":"datum.part == 'inner'"}],"mark":{"type":"rect","fillOpacity":0,"stroke":"#8a8a8a","strokeWidth":1.5},"encoding":{"x":{"field":"x","type":"quantitative","scale":{"domain":[20,1130],"nice":false,"zero":false},"axis":null},"x2":{"field":"x2"},"y":{"field":"y","type":"quantitative","scale":{"domain":[1122,6],"nice":false,"zero":false},"axis":null},"y2":{"field":"y2"}}},
{"data":{"name":"mapFrames"},"transform":[{"filter":"datum.part != 'inner'"}],"mark":{"type":"rect","fillOpacity":0,"stroke":"#111","strokeWidth":1.7},"encoding":{"x":{"field":"x","type":"quantitative","scale":{"domain":[20,1130],"nice":false,"zero":false},"axis":null},"x2":{"field":"x2"},"y":{"field":"y","type":"quantitative","scale":{"domain":[1122,6],"nice":false,"zero":false},"axis":null},"y2":{"field":"y2"}}},
{"data":{"name":"scaleBar"},"mark":{"type":"rect","stroke":"#333","strokeWidth":1},"encoding":{"x":{"field":"x","type":"quantitative","scale":{"domain":[20,1130],"nice":false,"zero":false},"axis":null},"x2":{"field":"x2"},"y":{"field":"y","type":"quantitative","scale":{"domain":[1122,6],"nice":false,"zero":false},"axis":null},"y2":{"field":"y2"},"fill":{"field":"part","type":"nominal","scale":{"domain":["0-2 km","2-4 km"],"range":["#000","#fff"]},"legend":null}}},
{"data":{"name":"mapLabels"},"transform":[{"filter":"datum.group == 'drc'"}],"mark":{"type":"text","fontSize":12,"fontWeight":"bold","color":"#222"},"encoding":{"x":{"field":"x","type":"quantitative","scale":{"domain":[20,1130],"nice":false,"zero":false},"axis":null},"y":{"field":"y","type":"quantitative","scale":{"domain":[1122,6],"nice":false,"zero":false},"axis":null},"text":{"field":"label"}}},
{"data":{"name":"mapLabels"},"transform":[{"filter":"datum.group == 'uganda'"}],"mark":{"type":"text","fontSize":9.5,"fontWeight":"bold","color":"#222"},"encoding":{"x":{"field":"x","type":"quantitative","scale":{"domain":[20,1130],"nice":false,"zero":false},"axis":null},"y":{"field":"y","type":"quantitative","scale":{"domain":[1122,6],"nice":false,"zero":false},"axis":null},"text":{"field":"label"}}},
{"data":{"name":"mapLabels"},"transform":[{"filter":"datum.group == 'place'"}],"mark":{"type":"text","fontSize":9.5,"color":"#444"},"encoding":{"x":{"field":"x","type":"quantitative","scale":{"domain":[20,1130],"nice":false,"zero":false},"axis":null},"y":{"field":"y","type":"quantitative","scale":{"domain":[1122,6],"nice":false,"zero":false},"axis":null},"text":{"field":"label"}}},
{"data":{"name":"mapLabels"},"transform":[{"filter":"datum.group == 'bar'"}],"mark":{"type":"text","fontSize":13,"color":"#222"},"encoding":{"x":{"field":"x","type":"quantitative","scale":{"domain":[20,1130],"nice":false,"zero":false},"axis":null},"y":{"field":"y","type":"quantitative","scale":{"domain":[1122,6],"nice":false,"zero":false},"axis":null},"text":{"field":"label"}}}
]}
]}
]}
